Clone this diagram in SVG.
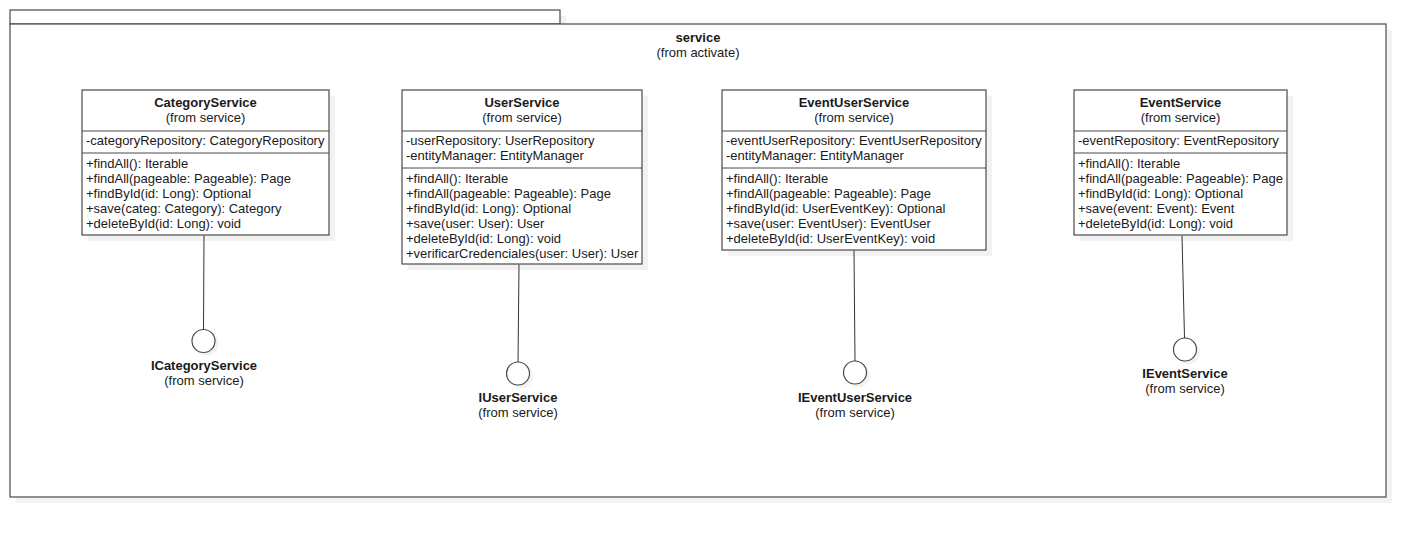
<svg xmlns="http://www.w3.org/2000/svg" width="1426" height="538" viewBox="0 0 1426 538">
<style>
.sh{fill:#f2f2f2;stroke:none}
.box{fill:#fff;stroke:#4a4a4a;stroke-width:1.2}
.sep{stroke:#4a4a4a;stroke-width:1}
.conn{stroke:#333;stroke-width:1;fill:none}
text{font-family:"Liberation Sans",Arial,sans-serif;font-size:13px;fill:#1a1a1a}
.t{font-weight:bold;text-anchor:middle}
.c{text-anchor:middle}
</style>
<rect width="1426" height="538" fill="#fff"/>
<g id="package-service">
<rect class="sh" x="16" y="30" width="1376" height="473"/>
<rect class="sh" x="16" y="16" width="550" height="14"/>
<rect class="box" x="10" y="10" width="550" height="14"/>
<rect class="box" x="10" y="24" width="1376" height="473"/>
<text class="t" x="698" y="42">service</text>
<text class="c" x="698" y="57">(from activate)</text>
</g>
<g id="CategoryService">
<rect class="sh" x="88" y="96" width="247" height="145"/>
<rect class="box" x="82" y="90" width="247" height="145"/>
<line class="sep" x1="82" y1="131" x2="329" y2="131"/>
<line class="sep" x1="82" y1="153" x2="329" y2="153"/>
<text class="t" x="205.5" y="107">CategoryService</text>
<text class="c" x="205.5" y="121.5">(from service)</text>
<text x="86" y="145">-categoryRepository: CategoryRepository</text>
<text x="86" y="168">+findAll(): Iterable</text>
<text x="86" y="183">+findAll(pageable: Pageable): Page</text>
<text x="86" y="198">+findById(id: Long): Optional</text>
<text x="86" y="213">+save(categ: Category): Category</text>
<text x="86" y="228">+deleteById(id: Long): void</text>
</g>
<g id="UserService">
<rect class="sh" x="408" y="96" width="240" height="174"/>
<rect class="box" x="402" y="90" width="240" height="174"/>
<line class="sep" x1="402" y1="131" x2="642" y2="131"/>
<line class="sep" x1="402" y1="168" x2="642" y2="168"/>
<text class="t" x="522" y="107">UserService</text>
<text class="c" x="522" y="121.5">(from service)</text>
<text x="406" y="145">-userRepository: UserRepository</text>
<text x="406" y="160">-entityManager: EntityManager</text>
<text x="406" y="183">+findAll(): Iterable</text>
<text x="406" y="198">+findAll(pageable: Pageable): Page</text>
<text x="406" y="213">+findById(id: Long): Optional</text>
<text x="406" y="228">+save(user: User): User</text>
<text x="406" y="243">+deleteById(id: Long): void</text>
<text x="406" y="258">+verificarCredenciales(user: User): User</text>
</g>
<g id="EventUserService">
<rect class="sh" x="728" y="96" width="264" height="160"/>
<rect class="box" x="722" y="90" width="264" height="160"/>
<line class="sep" x1="722" y1="131" x2="986" y2="131"/>
<line class="sep" x1="722" y1="168" x2="986" y2="168"/>
<text class="t" x="854" y="107">EventUserService</text>
<text class="c" x="854" y="121.5">(from service)</text>
<text x="726" y="145">-eventUserRepository: EventUserRepository</text>
<text x="726" y="160">-entityManager: EntityManager</text>
<text x="726" y="183">+findAll(): Iterable</text>
<text x="726" y="198">+findAll(pageable: Pageable): Page</text>
<text x="726" y="213">+findById(id: UserEventKey): Optional</text>
<text x="726" y="228">+save(user: EventUser): EventUser</text>
<text x="726" y="243">+deleteById(id: UserEventKey): void</text>
</g>
<g id="EventService">
<rect class="sh" x="1080" y="96" width="213" height="145"/>
<rect class="box" x="1074" y="90" width="213" height="145"/>
<line class="sep" x1="1074" y1="131" x2="1287" y2="131"/>
<line class="sep" x1="1074" y1="153" x2="1287" y2="153"/>
<text class="t" x="1180.5" y="107">EventService</text>
<text class="c" x="1180.5" y="121.5">(from service)</text>
<text x="1078" y="145">-eventRepository: EventRepository</text>
<text x="1078" y="168">+findAll(): Iterable</text>
<text x="1078" y="183">+findAll(pageable: Pageable): Page</text>
<text x="1078" y="198">+findById(id: Long): Optional</text>
<text x="1078" y="213">+save(event: Event): Event</text>
<text x="1078" y="228">+deleteById(id: Long): void</text>
</g>
<g id="ICategoryService">
<circle class="sh" cx="207" cy="344" r="11.5"/>
<circle class="box" cx="203.5" cy="341" r="11.5"/>
<text class="t" x="204" y="370">ICategoryService</text>
<text class="c" x="204" y="385">(from service)</text>
</g>
<g id="IUserService">
<circle class="sh" cx="521.5" cy="376.5" r="11.5"/>
<circle class="box" cx="518" cy="373.5" r="11.5"/>
<text class="t" x="518" y="402">IUserService</text>
<text class="c" x="518" y="417">(from service)</text>
</g>
<g id="IEventUserService">
<circle class="sh" cx="858.5" cy="375.5" r="11.5"/>
<circle class="box" cx="855" cy="372.5" r="11.5"/>
<text class="t" x="855" y="402">IEventUserService</text>
<text class="c" x="855" y="417">(from service)</text>
</g>
<g id="IEventService">
<circle class="sh" cx="1188.5" cy="352.5" r="11.5"/>
<circle class="box" cx="1185" cy="349.5" r="11.5"/>
<text class="t" x="1185" y="378">IEventService</text>
<text class="c" x="1185" y="393">(from service)</text>
</g>
<g id="connectors">
<line class="conn" x1="204" y1="235.6" x2="203.5" y2="329.5"/>
<line class="conn" x1="519" y1="264.6" x2="518" y2="362"/>
<line class="conn" x1="854" y1="250.6" x2="855" y2="361"/>
<line class="conn" x1="1182" y1="235.6" x2="1184.5" y2="338"/>
</g>
</svg>
